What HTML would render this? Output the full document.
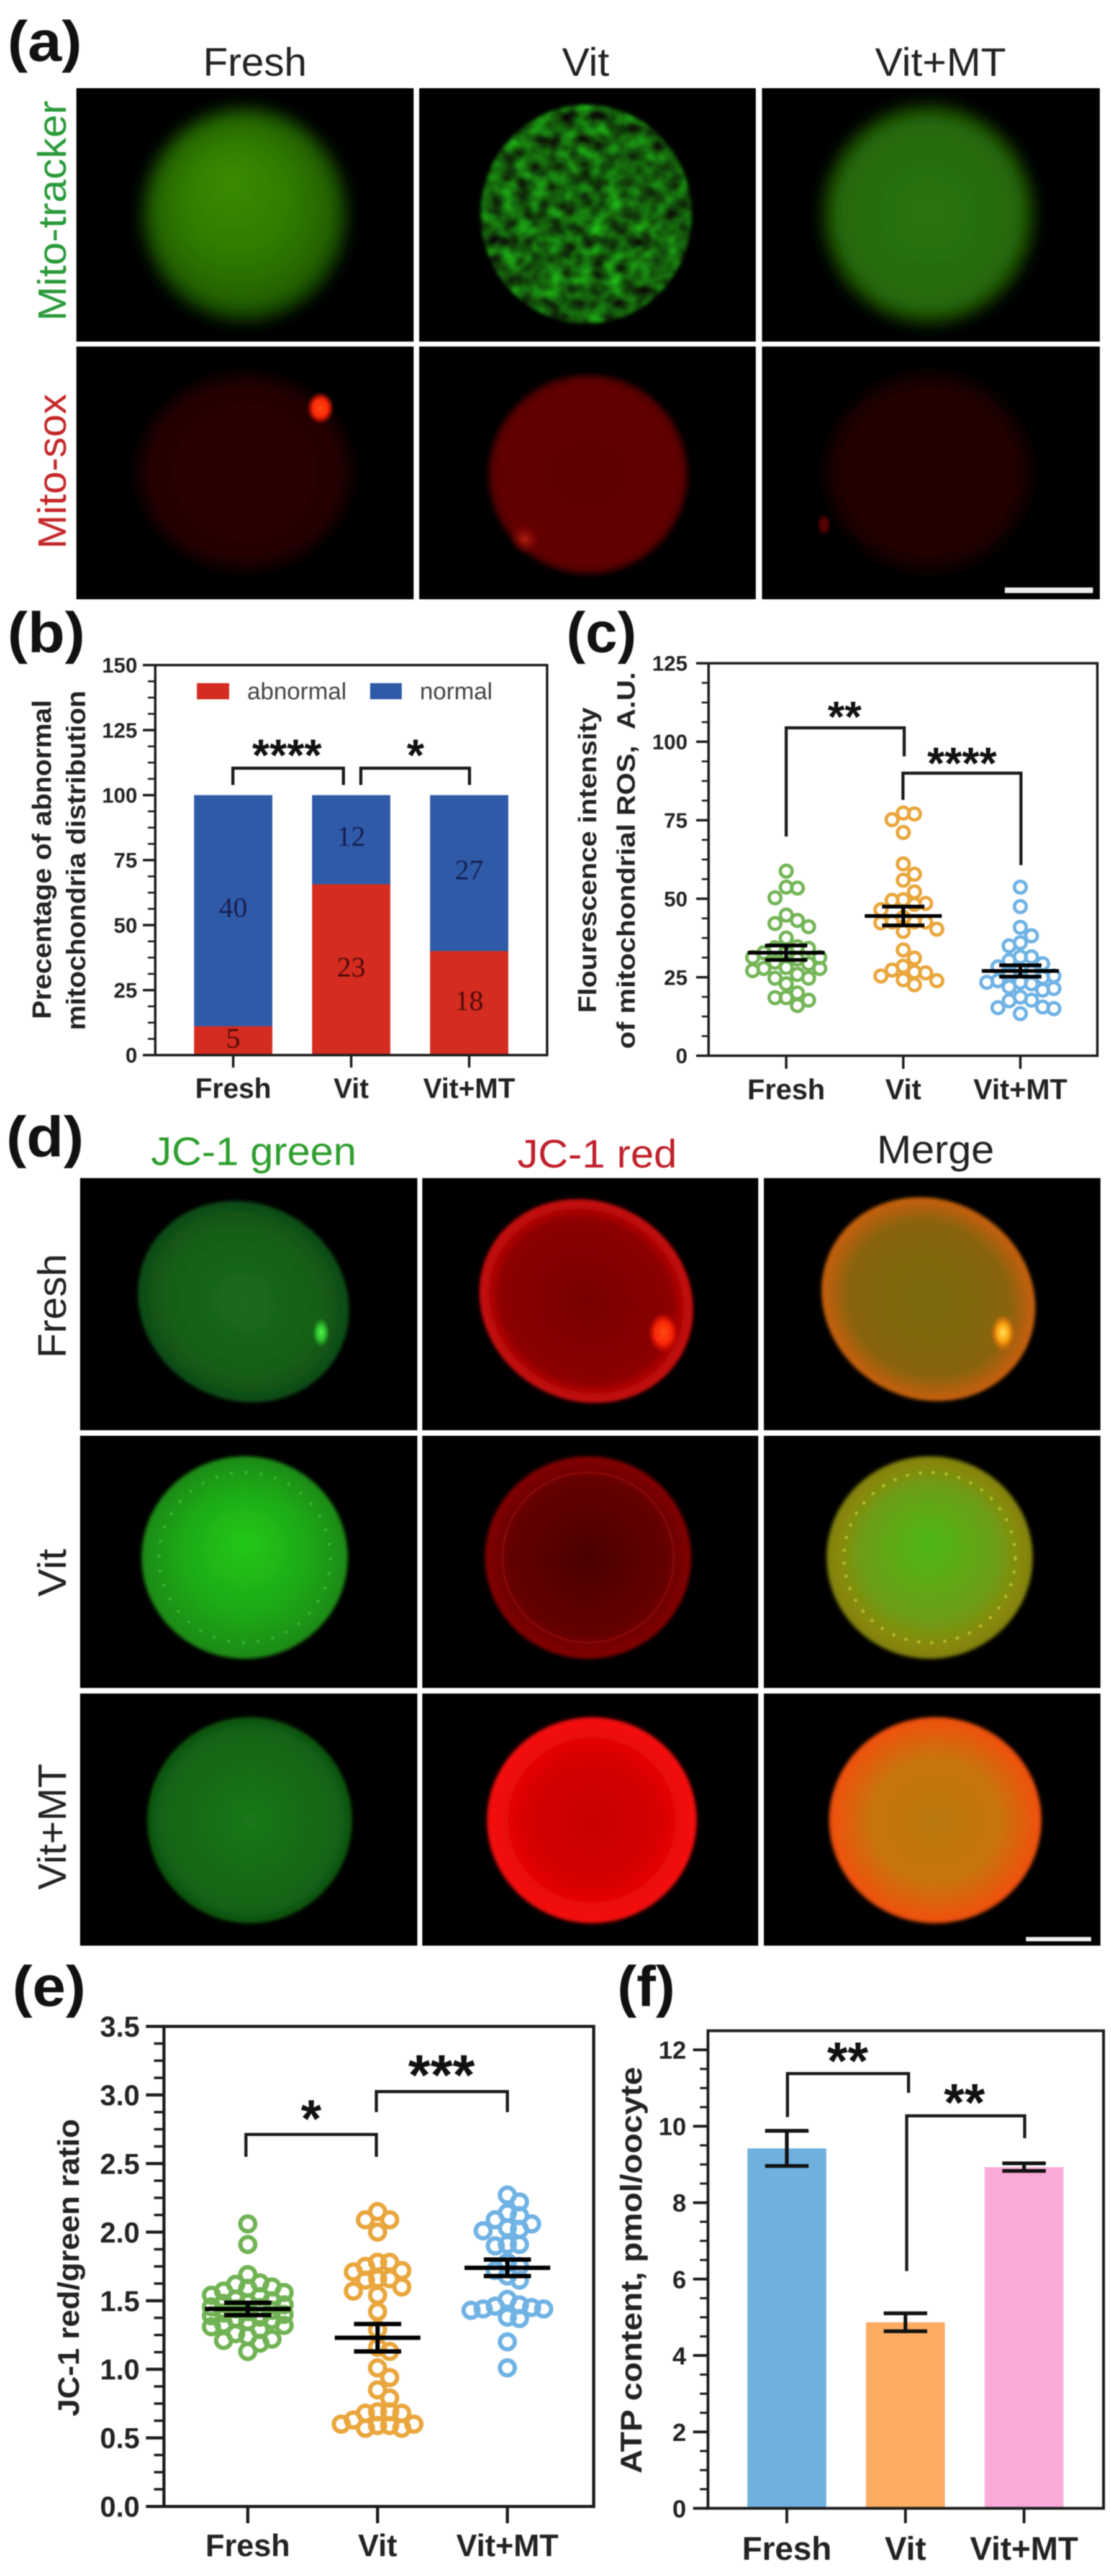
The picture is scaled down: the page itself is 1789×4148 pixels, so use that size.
<!DOCTYPE html>
<html lang="en">
<head>
<meta charset="utf-8">
<title>Mitochondrial function figure</title>
<style>
html,body{margin:0;padding:0;background:#fff;}
#figure{display:block;width:1789px;height:4148px;filter:blur(0.8px);font-family:"Liberation Sans",sans-serif;}
.plab{font-weight:700;font-size:92px;fill:#111;}
.hdr{font-size:64px;}
.ttl{font-weight:700;fill:#222;}
.star{font-weight:700;fill:#111;text-anchor:middle;}
.brk{fill:none;stroke:#1a1a1a;stroke-width:5;stroke-linejoin:miter;}
</style>
</head>
<body>
<svg id="figure" xmlns="http://www.w3.org/2000/svg" width="1789" height="4148" viewBox="0 0 1789 4148">
<defs>
  <filter id="b2" x="-20%" y="-20%" width="140%" height="140%"><feGaussianBlur stdDeviation="3"/></filter>
  <filter id="b4" x="-20%" y="-20%" width="140%" height="140%"><feGaussianBlur stdDeviation="5"/></filter>
  <filter id="b12" x="-30%" y="-30%" width="160%" height="160%"><feGaussianBlur stdDeviation="13"/></filter>
  <filter id="mottle" x="-5%" y="-5%" width="110%" height="110%" color-interpolation-filters="sRGB">
    <feTurbulence type="fractalNoise" baseFrequency="0.042 0.05" numOctaves="3" seed="7" result="n"/>
    <feColorMatrix in="n" type="matrix" values="0.12 0 0 0 0.02  1.15 0 0 0 -0.2  0.1 0 0 0 0  0 0 0 0 1" result="c"/>
    <feComposite in="c" in2="SourceAlpha" operator="in" result="m"/>
    <feGaussianBlur in="m" stdDeviation="3"/>
  </filter>
  <radialGradient id="gA1" cx=".5" cy=".5" r=".5" fx=".42" fy=".33"><stop offset="0" stop-color="#3c8c00"/><stop offset=".55" stop-color="#2f7a04"/><stop offset=".85" stop-color="#246404"/><stop offset="1" stop-color="#0e3a00"/></radialGradient>
  <radialGradient id="gA3"><stop offset="0" stop-color="#2a7408"/><stop offset=".85" stop-color="#266a08"/><stop offset="1" stop-color="#123c02"/></radialGradient>
  <radialGradient id="gA4"><stop offset="0" stop-color="#2a0000"/><stop offset=".9" stop-color="#280000"/><stop offset="1" stop-color="#160000"/></radialGradient>
  <radialGradient id="gA5"><stop offset="0" stop-color="#5e0000"/><stop offset=".9" stop-color="#620200"/><stop offset="1" stop-color="#4c0000"/></radialGradient>
  <radialGradient id="gA6"><stop offset="0" stop-color="#240000"/><stop offset=".9" stop-color="#200000"/><stop offset="1" stop-color="#120000"/></radialGradient>
  <radialGradient id="gD11"><stop offset="0" stop-color="#1c6a1c"/><stop offset=".7" stop-color="#166016"/><stop offset="1" stop-color="#0f4a12"/></radialGradient>
  <radialGradient id="gD12"><stop offset="0" stop-color="#780000"/><stop offset=".8" stop-color="#8c0000"/><stop offset=".93" stop-color="#bc0808"/><stop offset="1" stop-color="#cc0a0a"/></radialGradient>
  <radialGradient id="gD13"><stop offset="0" stop-color="#7a6a0a"/><stop offset=".75" stop-color="#886410"/><stop offset=".93" stop-color="#b86010"/><stop offset="1" stop-color="#c8600c"/></radialGradient>
  <radialGradient id="gD21" cx=".5" cy=".5" r=".5" fx=".5" fy=".42"><stop offset="0" stop-color="#22c814"/><stop offset=".6" stop-color="#1eaa16"/><stop offset="1" stop-color="#1c8a18"/></radialGradient>
  <radialGradient id="gD22"><stop offset="0" stop-color="#4c0000"/><stop offset=".75" stop-color="#620000"/><stop offset="1" stop-color="#840404"/></radialGradient>
  <radialGradient id="gD23" cx=".5" cy=".5" r=".5" fx=".5" fy=".42"><stop offset="0" stop-color="#4cb818"/><stop offset=".65" stop-color="#6c9e14"/><stop offset=".9" stop-color="#88880e"/><stop offset="1" stop-color="#80800c"/></radialGradient>
  <radialGradient id="gD31"><stop offset="0" stop-color="#1a781a"/><stop offset=".85" stop-color="#146414"/><stop offset="1" stop-color="#0e5210"/></radialGradient>
  <radialGradient id="gD32"><stop offset="0" stop-color="#c80000"/><stop offset=".6" stop-color="#d40202"/><stop offset=".95" stop-color="#f40a0a"/><stop offset="1" stop-color="#f00808"/></radialGradient>
  <radialGradient id="gD33"><stop offset="0" stop-color="#b87810"/><stop offset=".6" stop-color="#c8740e"/><stop offset=".95" stop-color="#ec5410"/><stop offset="1" stop-color="#e84c0c"/></radialGradient>
  <radialGradient id="spotR"><stop offset="0" stop-color="#ff4a10"/><stop offset=".55" stop-color="#f82808"/><stop offset="1" stop-color="#ff1000" stop-opacity="0"/></radialGradient>
  <radialGradient id="spotG"><stop offset="0" stop-color="#58f050"/><stop offset=".5" stop-color="#30c030"/><stop offset="1" stop-color="#20a020" stop-opacity="0"/></radialGradient>
  <radialGradient id="spotY"><stop offset="0" stop-color="#ffe050"/><stop offset=".5" stop-color="#f8a010"/><stop offset="1" stop-color="#f06000" stop-opacity="0"/></radialGradient>
  <radialGradient id="spotD"><stop offset="0" stop-color="#b02010"/><stop offset="1" stop-color="#800000" stop-opacity="0"/></radialGradient>
  <clipPath id="clipA">
    <rect x="123" y="142" width="543" height="408"/><rect x="675" y="142" width="542" height="408"/><rect x="1227" y="142" width="544" height="408"/>
    <rect x="123" y="558" width="543" height="407"/><rect x="675" y="558" width="542" height="407"/><rect x="1227" y="558" width="544" height="407"/>
  </clipPath>
  <clipPath id="clipD">
    <rect x="129" y="1897" width="543" height="406"/><rect x="680" y="1897" width="541" height="406"/><rect x="1230" y="1897" width="542" height="406"/>
    <rect x="129" y="2312" width="543" height="406"/><rect x="680" y="2312" width="541" height="406"/><rect x="1230" y="2312" width="542" height="406"/>
    <rect x="129" y="2727" width="543" height="406"/><rect x="680" y="2727" width="541" height="406"/><rect x="1230" y="2727" width="542" height="406"/>
  </clipPath>
</defs>
<rect x="0" y="0" width="1789" height="4148" fill="#fff"/>

<!-- Panel (a) -->
<g>
  <text class="plab" x="12" y="98" textLength="120" lengthAdjust="spacingAndGlyphs">(a)</text>
  <text class="hdr" fill="#222" x="327" y="122" textLength="167" lengthAdjust="spacingAndGlyphs">Fresh</text>
  <text class="hdr" fill="#222" x="905" y="122" textLength="76" lengthAdjust="spacingAndGlyphs">Vit</text>
  <text class="hdr" fill="#222" x="1409" y="122" textLength="211" lengthAdjust="spacingAndGlyphs">Vit+MT</text>
  <text font-size="64" fill="#2a9a3a" transform="translate(106 517) rotate(-90)" textLength="355" lengthAdjust="spacingAndGlyphs">Mito-tracker</text>
  <text font-size="64" fill="#c4282a" transform="translate(106 884) rotate(-90)" textLength="250" lengthAdjust="spacingAndGlyphs">Mito-sox</text>
  <g clip-path="url(#clipA)">
    <rect x="0" y="130" width="1789" height="850" fill="#000"/>
    <ellipse cx="394" cy="345" rx="165" ry="172" fill="url(#gA1)" filter="url(#b12)"/>
    <ellipse cx="944" cy="345" rx="170" ry="176" fill="#fff" filter="url(#mottle)"/>
    <ellipse cx="1495" cy="345" rx="170" ry="176" fill="url(#gA3)" filter="url(#b12)"/>
    <ellipse cx="394" cy="760" rx="171" ry="156" fill="url(#gA4)" filter="url(#b12)"/>
    <ellipse cx="516" cy="657" rx="22" ry="26" fill="url(#spotR)"/>
    <ellipse cx="947" cy="764" rx="160" ry="160" fill="url(#gA5)" filter="url(#b4)"/>
    <ellipse cx="845" cy="868" rx="24" ry="26" fill="url(#spotD)" transform="rotate(-35 845 868)"/>
    <ellipse cx="1495" cy="760" rx="165" ry="158" fill="url(#gA6)" filter="url(#b12)"/>
    <ellipse cx="1327" cy="845" rx="8" ry="14" fill="#5a0000" filter="url(#b2)"/>
  </g>
  <rect x="1618" y="946" width="142" height="9" fill="#eee"/>
</g>

<!-- Panel (b) -->
<g id="panelB">
  <text class="plab" x="12" y="1050" textLength="125" lengthAdjust="spacingAndGlyphs">(b)</text>
  <text class="ttl" font-size="43" transform="translate(82 1641) rotate(-90)" textLength="514" lengthAdjust="spacingAndGlyphs">Precentage of abnormal</text>
  <text class="ttl" font-size="43" transform="translate(137 1659) rotate(-90)" textLength="547" lengthAdjust="spacingAndGlyphs">mitochondria distribution</text>
  <rect x="317" y="1100" width="52" height="26" fill="#d42c20"/>
  <text font-size="38" fill="#444" x="398" y="1126" textLength="160" lengthAdjust="spacingAndGlyphs">abnormal</text>
  <rect x="596" y="1100" width="51" height="26" fill="#2f5aa8"/>
  <text font-size="38" fill="#444" x="676" y="1126" textLength="117" lengthAdjust="spacingAndGlyphs">normal</text>
  <path class="brk" d="M375 1264V1237H553V1264"/>
  <path class="brk" d="M581 1264V1237H756V1264"/>
  <text class="star" font-size="72" x="462" y="1241">****</text>
  <text class="star" font-size="72" x="669" y="1241">*</text>
</g>

<!-- Panel (c) -->
<g id="panelC">
  <text class="plab" x="912" y="1050" textLength="113" lengthAdjust="spacingAndGlyphs">(c)</text>
  <text class="ttl" font-size="41" transform="translate(960 1631) rotate(-90)" textLength="492" lengthAdjust="spacingAndGlyphs">Flourescence intensity</text>
  <text class="ttl" font-size="41" transform="translate(1022 1689) rotate(-90)" textLength="607" lengthAdjust="spacingAndGlyphs">of mitochondrial ROS,&#160;&#160;A.U.</text>
  <path class="brk" d="M1266 1347V1172H1456V1218"/>
  <path class="brk" d="M1454 1288V1245H1644V1393"/>
  <text class="star" font-size="70" x="1360" y="1178">**</text>
  <text class="star" font-size="72" x="1549" y="1254">****</text>
</g>

<!-- Panel (d) -->
<g>
  <text class="plab" x="10" y="1862" textLength="125" lengthAdjust="spacingAndGlyphs">(d)</text>
  <text class="hdr" fill="#2e9e2e" x="243" y="1876" textLength="331" lengthAdjust="spacingAndGlyphs">JC-1 green</text>
  <text class="hdr" fill="#c0202a" x="833" y="1880" textLength="257" lengthAdjust="spacingAndGlyphs">JC-1 red</text>
  <text class="hdr" fill="#222" x="1412" y="1873" textLength="189" lengthAdjust="spacingAndGlyphs">Merge</text>
  <text font-size="64" fill="#222" transform="translate(106 2187) rotate(-90)" textLength="168" lengthAdjust="spacingAndGlyphs">Fresh</text>
  <text font-size="64" fill="#222" transform="translate(106 2571) rotate(-90)" textLength="77" lengthAdjust="spacingAndGlyphs">Vit</text>
  <text font-size="64" fill="#222" transform="translate(106 3043) rotate(-90)" textLength="203" lengthAdjust="spacingAndGlyphs">Vit+MT</text>
  <g clip-path="url(#clipD)">
    <rect x="0" y="1890" width="1789" height="1250" fill="#000"/>
    <ellipse cx="392" cy="2096" rx="174" ry="158" fill="url(#gD11)" filter="url(#b2)" transform="rotate(30 392 2096)"/>
    <ellipse cx="517" cy="2146" rx="14" ry="24" fill="url(#spotG)"/>
    <ellipse cx="944" cy="2095" rx="176" ry="160" fill="url(#gD12)" filter="url(#b2)" transform="rotate(30 944 2095)"/>
    <ellipse cx="1068" cy="2146" rx="24" ry="32" fill="url(#spotR)"/>
    <ellipse cx="1495" cy="2092" rx="176" ry="160" fill="url(#gD13)" filter="url(#b2)" transform="rotate(30 1495 2092)"/>
    <ellipse cx="1615" cy="2146" rx="20" ry="30" fill="url(#spotY)"/>
    <ellipse cx="394" cy="2508" rx="166" ry="163" fill="url(#gD21)" filter="url(#b2)"/>
    <ellipse cx="394" cy="2508" rx="138" ry="137" fill="none" stroke="#60e060" stroke-opacity=".4" stroke-width="5" stroke-dasharray="4 20"/>
    <ellipse cx="947" cy="2508" rx="166" ry="163" fill="url(#gD22)" filter="url(#b2)"/>
    <ellipse cx="947" cy="2508" rx="138" ry="137" fill="none" stroke="#a01010" stroke-opacity=".45" stroke-width="4"/>
    <ellipse cx="1497" cy="2508" rx="166" ry="163" fill="url(#gD23)" filter="url(#b2)"/>
    <ellipse cx="1497" cy="2508" rx="138" ry="137" fill="none" stroke="#d8d840" stroke-opacity=".55" stroke-width="5" stroke-dasharray="5 16"/>
    <ellipse cx="402" cy="2931" rx="165" ry="166" fill="url(#gD31)" filter="url(#b2)"/>
    <ellipse cx="953" cy="2931" rx="169" ry="166" fill="url(#gD32)" filter="url(#b2)"/>
    <ellipse cx="1506" cy="2931" rx="171" ry="166" fill="url(#gD33)" filter="url(#b2)"/>
  </g>
  <rect x="1652" y="3119" width="105" height="7" fill="#eee"/>
</g>

<!-- Panel (e) -->
<g id="panelE">
  <text class="plab" x="20" y="3230" textLength="118" lengthAdjust="spacingAndGlyphs">(e)</text>
  <text class="ttl" font-size="48" transform="translate(127 3891) rotate(-90)" textLength="479" lengthAdjust="spacingAndGlyphs">JC-1 red/green ratio</text>
  <path class="brk" stroke-width="7" d="M396 3473V3437H606V3473"/>
  <path class="brk" stroke-width="7" d="M606 3401V3368H817V3401"/>
  <text class="star" font-size="85" x="501" y="3441">*</text>
  <text class="star" font-size="92" x="711" y="3373">***</text>
</g>

<!-- Panel (f) -->
<g id="panelF">
  <text class="plab" x="994" y="3230" textLength="93" lengthAdjust="spacingAndGlyphs">(f)</text>
  <text class="ttl" font-size="48" transform="translate(1033 3983) rotate(-90)" textLength="655" lengthAdjust="spacingAndGlyphs">ATP content, pmol/oocyte</text>
  <path class="brk" stroke-width="7" d="M1268 3409V3339H1463V3370"/>
  <path class="brk" stroke-width="7" d="M1460 3657V3407H1650V3443"/>
  <text class="star" font-size="85" x="1365" y="3348">**</text>
  <text class="star" font-size="85" x="1553" y="3415">**</text>
</g>
</svg>

<script>
// ---------- Shared categories ----------
const categories = ['Fresh', 'Vit', 'Vit+MT'];

// ---------- Panel (b): stacked bars ----------
const bTicks = [0, 25, 50, 75, 100, 125, 150];
const bAbnormalPct = [11.1, 65.7, 40];
const bNormalPct = [88.9, 34.3, 60];
const bAbnormalCounts = [5, 23, 18];
const bNormalCounts = [40, 12, 27];

// ---------- Panel (c): mitochondrial ROS ----------
const cTicks = [0, 25, 50, 75, 100, 125];
const cFresh = [58.8, 53.7, 53.4, 50.3, 44.8, 43.1, 42.1, 41.1, 37.5, 34.7, 34.4, 34.2, 32.8, 32.8, 31.3, 31.3, 30.8, 29.8, 29.3, 28.1, 27.8, 27.8, 27.1, 25.9, 24.7, 24.7, 22.9, 20, 18.5, 18.5, 17.7, 16];
const cVit = [77.3, 77, 75.2, 71.1, 61.1, 57.8, 55.9, 52.2, 49.7, 49.5, 48.5, 48.2, 46.5, 44.1, 42.6, 42.6, 42.6, 42.3, 40.3, 39.6, 33.7, 31.1, 28.5, 27.3, 26.7, 26.4, 25.4, 24.2, 23.9, 22.6];
const cVitMT = [53.7, 47.5, 40.9, 38.2, 36, 35, 31.5, 31.5, 30.3, 29.3, 28.3, 27.3, 26.8, 25.9, 25.4, 24.9, 23.9, 23.4, 23.4, 22.9, 21.9, 21.4, 20.9, 18.7, 17.7, 17.5, 15.5, 15.3, 15, 13.4];
const cMeans = [32.8, 44.5, 27];
const cSems = [2.3, 3, 1.8];

// ---------- Panel (e): JC-1 ratio ----------
const eTicks = [0, 0.5, 1, 1.5, 2, 2.5, 3, 3.5];
const eTickLabels = ['0.0', '0.5', '1.0', '1.5', '2.0', '2.5', '3.0', '3.5'];
const eFresh = [2.06, 1.91, 1.69, 1.63, 1.62, 1.6, 1.59, 1.57, 1.56, 1.54, 1.53, 1.51, 1.5, 1.485, 1.48, 1.47, 1.455, 1.45, 1.44, 1.43, 1.42, 1.41, 1.4, 1.39, 1.38, 1.37, 1.36, 1.35, 1.33, 1.32, 1.31, 1.29, 1.26, 1.24, 1.22, 1.21, 1.19, 1.13];
const eVit = [2.15, 2.09, 2.09, 2, 1.78, 1.78, 1.75, 1.72, 1.71, 1.66, 1.66, 1.65, 1.6, 1.57, 1.54, 1.42, 1.29, 1.16, 1.13, 1.01, 0.94, 0.85, 0.79, 0.69, 0.69, 0.68, 0.68, 0.63, 0.6, 0.6, 0.59, 0.59, 0.57, 0.57];
const eVitMT = [2.27, 2.22, 2.14, 2.12, 2.09, 2.06, 2.03, 2.02, 2.01, 1.91, 1.91, 1.9, 1.78, 1.75, 1.72, 1.68, 1.65, 1.51, 1.47, 1.46, 1.45, 1.44, 1.44, 1.43, 1.38, 1.37, 1.2, 1.01];
const eMeans = [1.44, 1.23, 1.74];
const eSems = [0.045, 0.1, 0.06];

// ---------- Panel (f): ATP content ----------
const fTicks = [0, 2, 4, 6, 8, 10, 12];
const fMeans = [9.42, 4.87, 8.93];
const fSems = [0.46, 0.235, 0.1];

const NS = 'http://www.w3.org/2000/svg';
const INK = '#1c1c1c';

function make(parent, tag, attrs, text) {
  const el = document.createElementNS(NS, tag);
  for (const k in attrs) el.setAttribute(k, attrs[k]);
  if (text !== undefined) el.textContent = text;
  parent.appendChild(el);
  return el;
}

// y axis function from plot geometry
function yScale(box, max) {
  return function (v) { return box.bottom - (v / max) * (box.bottom - box.top); };
}
// x axis function for evenly spaced categories
function xScale(first, step) {
  return function (i) { return first + i * step; };
}

function drawAxes(parent, box, y, x, ticks, labels, opt) {
  const frame = make(parent, 'rect', { x: box.left, y: box.top, width: box.right - box.left, height: box.bottom - box.top, fill: 'none', stroke: INK, 'stroke-width': opt.sw });
  
  
  ticks.forEach(function (t, i) {
    const yy = y(t);
    const major = make(parent, 'line', { x1: box.left - opt.major, x2: box.left, y1: yy, y2: yy, stroke: INK, 'stroke-width': opt.sw });
    
    
    const lab = make(parent, 'text', { x: opt.labelX, y: yy + opt.tickFont * 0.36, 'font-size': opt.tickFont, 'font-weight': 700, fill: '#222', 'text-anchor': 'end' }, labels[i]);
    
    
    if (i < ticks.length - 1) {
      for (let m = 1; m < 4; m++) {
        const my = y(t + (ticks[i + 1] - t) * m / 4);
        const minor = make(parent, 'line', { x1: box.left - opt.minor, x2: box.left, y1: my, y2: my, stroke: INK, 'stroke-width': opt.sw - 1 });
        
        
      }
    }
  });
  categories.forEach(function (c, i) {
    const xx = x(i);
    const tk = make(parent, 'line', { x1: xx, x2: xx, y1: box.bottom, y2: box.bottom + opt.xTick, stroke: INK, 'stroke-width': opt.sw });
    
    
    const lab = make(parent, 'text', { x: xx, y: opt.xLabelY, 'font-size': opt.xFont, 'font-weight': 700, fill: '#222', 'text-anchor': 'middle' }, c);
    
    
  });
}

// Beeswarm: offsets each value into the nearest free slot around the centre line
function swarm(values, y, gap) {
  const order = values.map(function (v, i) { return i; }).sort(function (a, b) { return values[b] - values[a]; });
  const slots = [0, 1, -1, 2, -2, 3, -3];
  const used = {};
  slots.forEach(function (s) { used[s] = []; });
  const out = new Array(values.length);
  order.forEach(function (idx) {
    const py = y(values[idx]);
    let best = null, bestD = -1;
    for (const s of slots) {
      const d = used[s].reduce(function (m, q) { return Math.min(m, Math.abs(q - py)); }, 1e9);
      if (d >= gap) { best = s; bestD = d; break; }
      if (d > bestD) { best = s; bestD = d; }
    }
    used[best].push(py);
    out[idx] = best;
  });
  return out;
}

function drawSwarm(parent, values, cx, y, color, opt) {
  const offs = swarm(values, y, opt.gap);
  values.forEach(function (v, i) {
    const c = make(parent, 'circle', { cx: cx + offs[i] * opt.slot, cy: y(v), r: opt.r, fill: 'none', stroke: color, 'stroke-width': opt.ringW });
    
    
  });
}

function drawMeanSem(parent, mean, sem, cx, y, opt) {
  const m = make(parent, 'line', { x1: cx - opt.meanHalf, x2: cx + opt.meanHalf, y1: y(mean), y2: y(mean), stroke: '#000', 'stroke-width': opt.w });
  
  
  const s = make(parent, 'line', { x1: cx, x2: cx, y1: y(mean - sem), y2: y(mean + sem), stroke: '#000', 'stroke-width': opt.w });
  
  
  [mean - sem, mean + sem].forEach(function (v) {
    const cap = make(parent, 'line', { x1: cx - opt.capHalf, x2: cx + opt.capHalf, y1: y(v), y2: y(v), stroke: '#000', 'stroke-width': opt.w });
    
    
  });
}

// ---- Panel b ----
(function () {
  const g = document.getElementById('panelB');
  const box = { left: 250, right: 881, top: 1071, bottom: 1699 };
  const y = yScale(box, 150), x = xScale(375.5, 190);
  bAbnormalPct.forEach(function (v, i) {
    const top = bNormalPct[i] + v;
    const n = make(g, 'rect', { x: x(i) - 63, y: y(top), width: 126, height: y(v) - y(top), fill: '#2f5aa8' });
    
    
    const a = make(g, 'rect', { x: x(i) - 63, y: y(v), width: 126, height: y(0) - y(v), fill: '#d42c20' });
    
    
    const tn = make(g, 'text', { x: x(i), y: y(v + bNormalPct[i] / 2) + 10, 'font-family': '"Liberation Serif",serif', 'font-size': 46, fill: '#10103a', 'fill-opacity': .8, 'text-anchor': 'middle' }, bNormalCounts[i]);
    
    
    const ta = make(g, 'text', { x: x(i), y: y(v / 2) + 11, 'font-family': '"Liberation Serif",serif', 'font-size': 46, fill: '#3a0606', 'fill-opacity': .85, 'text-anchor': 'middle' }, bAbnormalCounts[i]);
    
    
  });
  drawAxes(g, box, y, x, bTicks, bTicks.map(String), { sw: 4, major: 20, minor: 12, labelX: 221, tickFont: 34, xTick: 20, xLabelY: 1768, xFont: 45 });
})();

// ---- Panel c ----
(function () {
  const g = document.getElementById('panelC');
  const box = { left: 1141, right: 1767, top: 1068, bottom: 1700 };
  const y = yScale(box, 125), x = xScale(1266, 188.5);
  const colors = ['#75b558', '#e9a63c', '#6fb2e4'];
  [cFresh, cVit, cVitMT].forEach(function (vals, i) {
    drawSwarm(g, vals, x(i), y, colors[i], { gap: 20, slot: 18, r: 9.5, ringW: 5.5 });
  });
  drawAxes(g, box, y, x, cTicks, cTicks.map(String), { sw: 4, major: 20, minor: 11, labelX: 1107, tickFont: 34, xTick: 21, xLabelY: 1770, xFont: 46 });
  cMeans.forEach(function (m, i) {
    drawMeanSem(g, m, cSems[i], x(i), y, { meanHalf: 62, capHalf: 34, w: 6 });
  });
})();

// ---- Panel e ----
(function () {
  const g = document.getElementById('panelE');
  const box = { left: 264, right: 956, top: 3263, bottom: 4036 };
  const y = yScale(box, 3.5), x = xScale(399, 209);
  const colors = ['#71b354', '#e9a63c', '#6fb2e4'];
  [eFresh, eVit, eVitMT].forEach(function (vals, i) {
    drawSwarm(g, vals, x(i), y, colors[i], { gap: 22, slot: 19.5, r: 12, ringW: 7 });
  });
  drawAxes(g, box, y, x, eTicks, eTickLabels, { sw: 5, major: 29, minor: 16, labelX: 225, tickFont: 46, xTick: 27, xLabelY: 4116, xFont: 50 });
  eMeans.forEach(function (m, i) {
    drawMeanSem(g, m, eSems[i], x(i), y, { meanHalf: 69, capHalf: 38, w: 7 });
  });
})();

// ---- Panel f ----
(function () {
  const g = document.getElementById('panelF');
  const box = { left: 1140, right: 1777, top: 3270, bottom: 4039 };
  const maxVal = 12.5;
  const y = yScale(box, maxVal), x = xScale(1267, 191);
  const colors = ['#6fb0de', '#fdac63', '#fbaad8'];
  fMeans.forEach(function (m, i) {
    const b = make(g, 'rect', { x: x(i) - 63.5, y: y(m), width: 127, height: y(0) - y(m), fill: colors[i] });
    
    
  });
  drawAxes(g, box, y, x, fTicks, fTicks.map(String), { sw: 4.5, major: 24, minor: 13, labelX: 1105, tickFont: 40, xTick: 24, xLabelY: 4122, xFont: 53 });
  fMeans.forEach(function (m, i) {
    const w = 6;
    const s = make(g, 'line', { x1: x(i), x2: x(i), y1: y(m - fSems[i]), y2: y(m + fSems[i]), stroke: '#111', 'stroke-width': w });
    
    
    [m - fSems[i], m + fSems[i]].forEach(function (v) {
      const cap = make(g, 'line', { x1: x(i) - 35, x2: x(i) + 35, y1: y(v), y2: y(v), stroke: '#111', 'stroke-width': w });
      
      
    });
  });
})();
</script>
</body>
</html>
